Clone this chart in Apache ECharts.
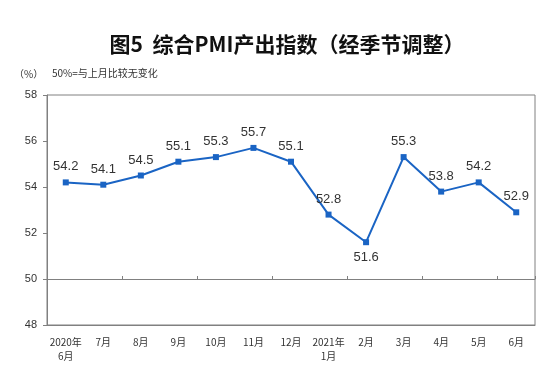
<!DOCTYPE html>
<html>
<head>
<meta charset="utf-8">
<script src="https://cdn.jsdelivr.net/npm/echarts@6/dist/echarts.min.js"></script>
<style>html,body{margin:0;padding:0;background:#fff;}#c{width:546px;height:384px;}</style>
</head>
<body>
<div id="c"></div>
<script>
var categories = ['2020年\n6月','7月','8月','9月','10月','11月','12月','2021年\n1月','2月','3月','4月','5月','6月'];
var pmiValues = [54.2, 54.1, 54.5, 55.1, 55.3, 55.7, 55.1, 52.8, 51.6, 55.3, 53.8, 54.2, 52.9];
var yTicks = [48, 50, 52, 54, 56, 58];

var chart = echarts.init(document.getElementById('c'), null, {renderer: 'canvas'});
var minV = Math.min.apply(null, pmiValues);
var seriesData = pmiValues.map(function (v) {
  return v === minV ? {value: v, label: {position: 'bottom'}} : v;
});
var axisColor = '#808080';
var font = '"Liberation Sans", Arial, sans-serif';
chart.setOption({
  animation: false,
  backgroundColor: '#fff',
  title: {
    text: '图5  综合PMI产出指数（经季节调整）',
    left: 282, textAlign: 'center', top: 29,
    textStyle: {fontFamily: '"Noto Sans CJK SC", sans-serif', fontSize: 21, fontWeight: 'bold', color: '#111'}
  },
  graphic: [
    {type: 'text', left: 14, top: 69, style: {text: '（%）', fontSize: 10, fill: '#333', fontFamily: '"Noto Sans CJK SC", sans-serif'}},
    {type: 'text', left: 52, top: 68, style: {text: '50%=与上月比较无变化', fontSize: 10, fill: '#333', fontFamily: '"Noto Sans CJK SC", sans-serif'}}
  ],
  grid: {left: 47, right: 11, top: 95, bottom: 59, show: true, borderColor: axisColor, borderWidth: 1, containLabel: false},
  xAxis: [
    {
      type: 'category', data: categories, position: 'bottom', boundaryGap: true,
      axisLine: {show: true, onZero: false, lineStyle: {color: axisColor}},
      axisTick: {show: false},
      axisLabel: {color: '#333', fontSize: 10, margin: 10, lineHeight: 14, fontFamily: '"Noto Sans CJK SC", sans-serif', interval: 0}
    },
    {
      type: 'category', data: categories, position: 'bottom', offset: -46, boundaryGap: true,
      axisLine: {show: true, onZero: false, lineStyle: {color: axisColor}},
      axisTick: {show: true, inside: true, length: 3, lineStyle: {color: axisColor}},
      axisLabel: {show: false}
    }
  ],
  yAxis: {
    type: 'value', min: yTicks[0], max: yTicks[yTicks.length - 1], interval: 2,
    axisLine: {show: true, lineStyle: {color: axisColor}},
    axisTick: {show: true, length: 4, lineStyle: {color: axisColor}},
    splitLine: {show: false},
    axisLabel: {color: '#333', fontSize: 11, margin: 10, fontFamily: font}
  },
  series: [{
    type: 'line', xAxisIndex: 0, data: seriesData,
    symbol: 'rect', symbolSize: 6,
    lineStyle: {color: '#1a64c4', width: 2},
    itemStyle: {color: '#1a64c4'},
    label: {show: true, position: 'top', distance: 6, color: '#333', fontSize: 13, fontFamily: font}
  }]
});
</script>
</body>
</html>
